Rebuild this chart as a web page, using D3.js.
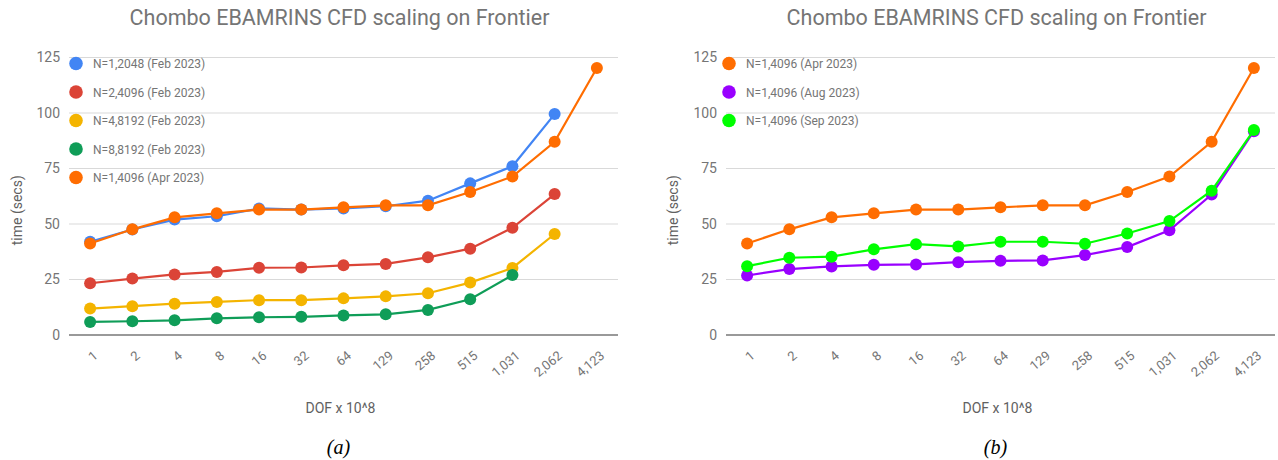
<!DOCTYPE html>
<html><head><meta charset="utf-8">
<script src="https://cdn.jsdelivr.net/npm/d3@7"></script>
<style>
html,body{margin:0;padding:0;background:#fff;}
svg{display:block;}
text{font-family:Roboto, "Noto Sans", sans-serif;}
</style></head>
<body><svg id="c" width="1278" height="460"></svg>
<script>
const categories = ["1","2","4","8","16","32","64","129","258","515","1,031","2,062","4,123"];
const yTicks = [0,25,50,75,100,125];
const titleText = "Chombo EBAMRINS CFD scaling on Frontier";
const xTitle = "DOF x 10^8";
const yTitle = "time (secs)";

// Panel (a)
const aNames = ["N=1,2048 (Feb 2023)","N=2,4096 (Feb 2023)","N=4,8192 (Feb 2023)","N=8,8192 (Feb 2023)","N=1,4096 (Apr 2023)"];
const aColors = ["#4285F4","#DB4437","#F4B400","#0F9D58","#FF6D01"];
const aN12048 = [42, 47.5, 52, 53.5, 57, 56.5, 57, 58, 60.5, 68.3, 76, 99.5, null];
const aN24096 = [23.3, 25.4, 27.3, 28.4, 30.3, 30.4, 31.4, 32, 35, 38.9, 48.3, 63.5, null];
const aN48192 = [11.9, 13, 14.1, 14.9, 15.7, 15.7, 16.5, 17.4, 18.8, 23.6, 30.2, 45.5, null];
const aN88192 = [5.9, 6.2, 6.6, 7.5, 8, 8.2, 8.8, 9.3, 11.3, 16.1, 27, null, null];
const aN14096 = [41.2, 47.6, 53, 54.8, 56.5, 56.5, 57.5, 58.4, 58.4, 64.4, 71.4, 87, 120.3];

// Panel (b)
const bNames = ["N=1,4096 (Apr 2023)","N=1,4096 (Aug 2023)","N=1,4096 (Sep 2023)"];
const bColors = ["#FF6D01","#9900FF","#00FF00"];
const bApr = [41.2, 47.6, 53, 54.8, 56.5, 56.5, 57.5, 58.4, 58.4, 64.4, 71.4, 87, 120.3];
const bAug = [26.8, 29.7, 30.9, 31.6, 31.8, 32.8, 33.4, 33.6, 36, 39.6, 47.2, 63.3, 91.8];
const bSep = [31, 34.8, 35.3, 38.6, 40.9, 39.9, 42, 42, 41.1, 45.7, 51.3, 65, 92.3];

const panels = [
  {left:69, right:618, caption:"(a)", series:[aN12048,aN24096,aN48192,aN88192,aN14096], names:aNames, colors:aColors, yTitleX:18, legendX:76},
  {left:726, right:1275, caption:"(b)", series:[bApr,bAug,bSep], names:bNames, colors:bColors, yTitleX:674, legendX:729}
];

const svg = d3.select("#c");
const plotTop = 57.5, plotBottom = 335;

panels.forEach(p => {
  const g = svg.append("g");
  const x = d3.scalePoint().domain(categories).range([p.left, p.right]).padding(0.5);
  const y = d3.scaleLinear().domain([0,125]).range([plotBottom, plotTop]);
  const cx = (p.left + p.right)/2;

  g.append("text").attr("x", cx-4).attr("y", 25).attr("text-anchor","middle")
    .attr("font-size",21.5).attr("fill","#757575").text(titleText);

  g.append("g").selectAll("line").data(yTicks.filter(d=>d>0)).join("line")
    .attr("x1",p.left).attr("x2",p.right).attr("y1",d=>y(d)).attr("y2",d=>y(d))
    .attr("stroke","#d9d9d9").attr("stroke-width",1.2);

  const ya = g.append("g").attr("transform",`translate(${p.left},0)`)
    .call(d3.axisLeft(y).tickValues(yTicks).tickSize(0).tickPadding(9));
  ya.select(".domain").remove();
  ya.selectAll("text").attr("font-size",14).attr("fill","#757575").attr("font-family","Roboto");

  g.append("line").attr("x1",p.left).attr("x2",p.right).attr("y1",y(0)).attr("y2",y(0))
    .attr("stroke","#777").attr("stroke-width",1.6);

  const xa = g.append("g").attr("transform",`translate(0,${plotBottom})`)
    .call(d3.axisBottom(x).tickSize(0).tickPadding(0));
  xa.select(".domain").remove();
  xa.selectAll("text")
    .attr("font-size",13).attr("fill","#757575").attr("font-family","Roboto")
    .attr("text-anchor","end").attr("dy",null).attr("y",0).attr("x",0)
    .attr("transform","translate(8,22) rotate(-40)");

  g.append("text").attr("x",cx-3).attr("y",413).attr("text-anchor","middle")
    .attr("font-size",14).attr("fill","#616161").text(xTitle);
  g.append("text").attr("transform",`translate(${p.yTitleX+4},${(plotTop+plotBottom)/2+14}) rotate(-90)`)
    .attr("text-anchor","middle").attr("font-size",14).attr("fill","#616161").text(yTitle);

  g.append("text").attr("x",cx-5).attr("y",454).attr("text-anchor","middle")
    .attr("font-size",20).attr("font-style","italic")
    .style("font-family","'Liberation Serif','Times New Roman',serif").attr("fill","#000").text(p.caption);

  const line = d3.line().defined(d=>d.v!=null).x(d=>x(d.c)).y(d=>y(d.v));
  p.series.forEach((vals,i) => {
    const pts = categories.map((c,j)=>({c, v:vals[j]}));
    g.append("path").datum(pts).attr("d",line).attr("fill","none")
      .attr("stroke",p.colors[i]).attr("stroke-width",2.2);
    g.append("g").selectAll("circle").data(pts.filter(d=>d.v!=null)).join("circle")
      .attr("cx",d=>x(d.c)).attr("cy",d=>y(d.v)).attr("r",6).attr("fill",p.colors[i]);
  });

  p.names.forEach((n,i) => {
    const ly = 63.5 + i*28.5;
    g.append("circle").attr("cx",p.legendX).attr("cy",ly).attr("r",6.8).attr("fill",p.colors[i]);
    g.append("text").attr("x",p.legendX+17).attr("y",ly+4.5).attr("font-size",12)
      .attr("fill","#757575").text(n);
  });
});
</script></body></html>
